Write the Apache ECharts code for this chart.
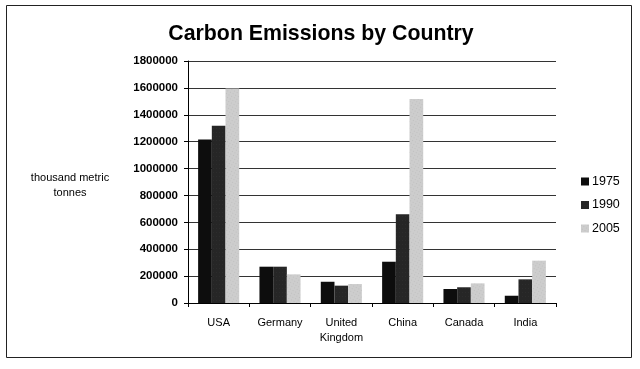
<!DOCTYPE html>
<html><head><meta charset="utf-8">
<script src="https://cdn.jsdelivr.net/npm/echarts@6/dist/echarts.min.js"></script>
<style>html,body{margin:0;padding:0;background:#fff}#c{width:640px;height:369px}</style>
</head><body><div id="c"></div>
<script>
const categories = ['USA', 'Germany', 'United\nKingdom', 'China', 'Canada', 'India'];
const years = ['1975', '1990', '2005'];
const v1975 = [1217000, 270000, 158000, 307000, 104000, 54000];
const v1990 = [1318000, 270000, 129000, 660000, 117000, 176000];
const v2005 = [1596000, 213000, 141000, 1517000, 146000, 315000];
const yTicks = [0, 200000, 400000, 600000, 800000, 1000000, 1200000, 1400000, 1600000, 1800000];

const colors = ['#0d0d0d', '#262626', '#cdcdcd'];
const chart = echarts.init(document.getElementById('c'), null, {renderer: 'canvas'});
const font = 'Liberation Sans, Arial, sans-serif';
chart.setOption({
  animation: false,
  backgroundColor: '#fff',
  title: {
    text: 'Carbon Emissions by Country', left: 316, textAlign: 'center', top: 19,
    textStyle: {fontFamily: font, fontSize: 21.3, fontWeight: 'bold', color: '#000'}
  },
  graphic: [
    {type: 'rect', shape: {x: 6.5, y: 5.5, width: 625, height: 352}, style: {fill: 'none', stroke: '#222', lineWidth: 1}},
    {type: 'text', x: 70, y: 170, style: {text: 'thousand metric\ntonnes', textAlign: 'center', fontFamily: font, fontSize: 11, fill: '#000', lineHeight: 15}}
  ],
  legend: {
    orient: 'vertical', left: 576, top: 170, itemWidth: 8, itemHeight: 8, itemGap: 10.5,
    data: years, icon: 'rect',
    textStyle: {fontFamily: font, fontSize: 12.5, color: '#000', padding: [0, 0, 0, -2]}
  },
  grid: {left: 188, right: 84, top: 61, bottom: 66},
  xAxis: {
    type: 'category', data: categories,
    axisLine: {lineStyle: {color: '#000', width: 1}},
    axisTick: {show: true, alignWithLabel: false, length: 4, lineStyle: {color: '#000'}},
    axisLabel: {fontFamily: font, fontSize: 11, color: '#000', margin: 12, lineHeight: 15, interval: 0}
  },
  yAxis: {
    type: 'value', min: yTicks[0], max: yTicks[yTicks.length - 1], interval: yTicks[1] - yTicks[0],
    axisLine: {show: true, lineStyle: {color: '#000'}},
    axisTick: {show: true, length: 4, lineStyle: {color: '#000'}},
    axisLabel: {fontFamily: font, fontSize: 11.5, fontWeight: 'bold', color: '#000', margin: 10, formatter: v => String(v)},
    splitLine: {lineStyle: {color: '#333', width: 1}}
  },
  series: [
    {name: years[0], type: 'bar', data: v1975, barGap: '0%', barCategoryGap: '33%', itemStyle: {color: colors[0]}},
    {name: years[1], type: 'bar', data: v1990, barGap: '0%', barCategoryGap: '33%', itemStyle: {color: colors[1], decal: {symbol: 'rect', symbolSize: 0.3, color: 'rgba(120,120,120,0.5)', dashArrayX: [1, 2], dashArrayY: [1, 3]}}},
    {name: years[2], type: 'bar', data: v2005, barGap: '0%', barCategoryGap: '33%', itemStyle: {color: colors[2], decal: {symbol: 'rect', symbolSize: 0.4, color: 'rgba(90,90,90,0.55)', dashArrayX: [1, 2], dashArrayY: [1, 2], rotation: 0.5}}}
  ]
});
</script></body></html>
